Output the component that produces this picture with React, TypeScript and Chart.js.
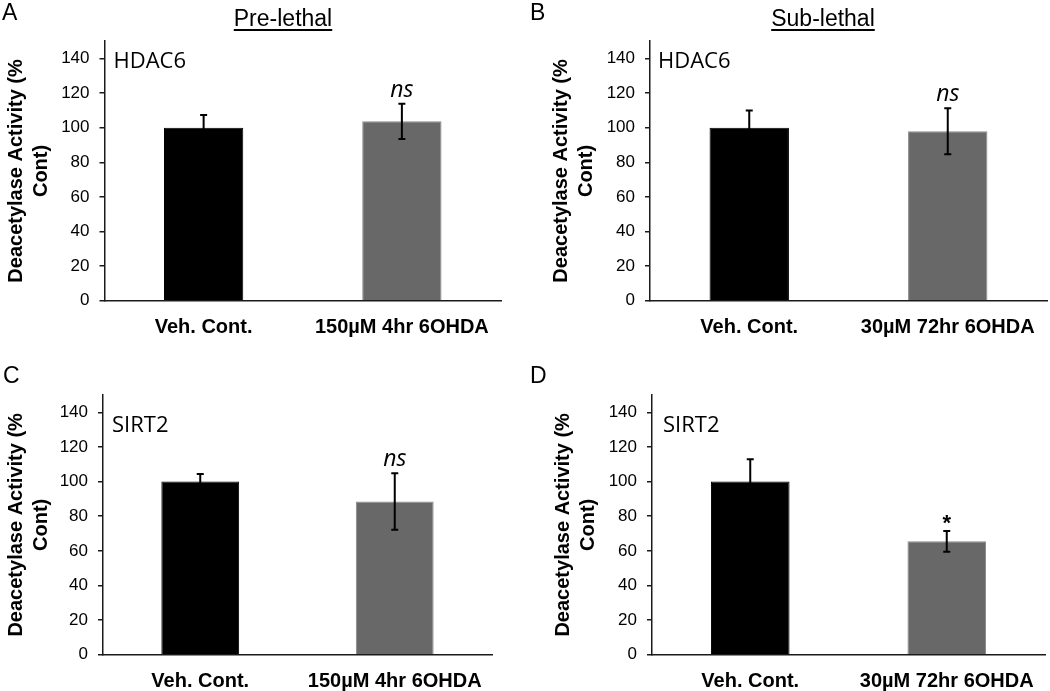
import React, { useEffect, useRef } from 'react';
import { Chart, registerables } from 'chart.js';

Chart.register(...registerables);

// ---------------- data ----------------
const categoriesPreLethal = ['Veh. Cont.', '150µM 4hr 6OHDA'];
const categoriesSubLethal = ['Veh. Cont.', '30µM 72hr 6OHDA'];

const valuesA = [100, 103.7];
const errorsA = [7.3, 10.2];
const signifA = ['', 'ns'];

const valuesB = [100, 98];
const errorsB = [10, 13.3];
const signifB = ['', 'ns'];

const valuesC = [100, 88.5];
const errorsC = [4.4, 16.3];
const signifC = ['', 'ns'];

const valuesD = [100, 65.5];
const errorsD = [12.9, 6];
const signifD = ['', '*'];

const yTickValues = [0, 20, 40, 60, 80, 100, 120, 140];
const yMax = 150;
const enzymeLabels = ['HDAC6', 'HDAC6', 'SIRT2', 'SIRT2'];
const panelLetters = ['A', 'B', 'C', 'D'];
const columnTitles = ['Pre-lethal', 'Sub-lethal'];
const yAxisTitle = ['Deacetylase Activity (%', 'Cont)'];

// ---------------- layout / style ----------------
const ARIAL = "'Liberation Sans', Arial, sans-serif";
const CALIBRI_LIKE = "'Open Sans', 'Liberation Sans', sans-serif";
const barColors = ['#000000', '#686868'];
const barBorders = ['#000000', '#8a8a8a'];

type PanelLayout = {
  left: number; top: number; w: number; h: number;
  yWidth: number; padTop: number; padRight: number; xHeight: number;
  titlePad: number; labelDx: number; labelDy: number;
};

const layouts: PanelLayout[] = [
  { left: 0, top: 0, w: 525, h: 345, yWidth: 104.5, padTop: 41.2, padRight: 24, xHeight: 44.3, titlePad: 3.5, labelDx: 9, labelDy: 27.1 },
  { left: 525, top: 0, w: 525, h: 345, yWidth: 125, padTop: 41.2, padRight: 3, xHeight: 44.3, titlePad: 24.2, labelDx: 8, labelDy: 27.1 },
  { left: 0, top: 345, w: 525, h: 346, yWidth: 103, padTop: 50, padRight: 33, xHeight: 36.3, titlePad: 3.5, labelDx: 9, labelDy: 36.7 },
  { left: 525, top: 345, w: 525, h: 346, yWidth: 127, padTop: 50, padRight: 5, xHeight: 36.3, titlePad: 26, labelDx: 11, labelDy: 36.7 },
];

type PanelData = { cats: string[]; values: number[]; errors: number[]; signif: string[] };
const panels: PanelData[] = [
  { cats: categoriesPreLethal, values: valuesA, errors: errorsA, signif: signifA },
  { cats: categoriesSubLethal, values: valuesB, errors: errorsB, signif: signifB },
  { cats: categoriesPreLethal, values: valuesC, errors: errorsC, signif: signifC },
  { cats: categoriesSubLethal, values: valuesD, errors: errorsD, signif: signifD },
];

function Panel({ idx }: { idx: number }) {
  const ref = useRef<HTMLCanvasElement | null>(null);
  const lay = layouts[idx];
  const pd = panels[idx];

  useEffect(() => {
    if (!ref.current) return;
    const overlay = {
      id: 'overlay' + idx,
      afterDatasetsDraw(chart: any) {
        const ctx = chart.ctx as CanvasRenderingContext2D;
        const meta = chart.getDatasetMeta(0);
        const ys = chart.scales.y;
        ctx.save();
        pd.values.forEach((v, i) => {
          const x = meta.data[i].x;
          const top = ys.getPixelForValue(v + pd.errors[i]);
          const bot = ys.getPixelForValue(v - pd.errors[i]);
          ctx.strokeStyle = '#000';
          ctx.lineWidth = 2;
          ctx.beginPath();
          ctx.moveTo(x, top);
          ctx.lineTo(x, bot);
          ctx.moveTo(x - 3.5, top);
          ctx.lineTo(x + 3.5, top);
          ctx.moveTo(x - 3.5, bot);
          ctx.lineTo(x + 3.5, bot);
          ctx.stroke();
          const s = pd.signif[i];
          if (s) {
            ctx.fillStyle = '#000';
            ctx.textAlign = 'center';
            ctx.textBaseline = 'alphabetic';
            if (s === '*') {
              ctx.font = `bold 22px ${ARIAL}`;
              ctx.fillText(s, x, top - 1);
            } else {
              ctx.font = `italic 23px ${CALIBRI_LIKE}`;
              ctx.fillText(s, x, top - 7);
            }
          }
        });
        const area = chart.chartArea;
        ctx.fillStyle = '#000';
        ctx.textAlign = 'left';
        ctx.textBaseline = 'alphabetic';
        ctx.font = `22px ${CALIBRI_LIKE}`;
        ctx.fillText(enzymeLabels[idx], area.left + lay.labelDx, area.top + lay.labelDy);
        ctx.restore();
      },
    };

    const chart = new Chart(ref.current, {
      type: 'bar',
      data: {
        labels: pd.cats,
        datasets: [
          {
            data: pd.values,
            backgroundColor: barColors,
            borderColor: barBorders,
            borderWidth: 1,
            barPercentage: 0.4,
            categoryPercentage: 1,
          },
        ],
      },
      options: {
        responsive: false,
        animation: false,
        events: [],
        layout: { padding: { top: lay.padTop, right: lay.padRight, left: 0, bottom: 0 } },
        plugins: { legend: { display: false }, tooltip: { enabled: false }, title: { display: false } },
        scales: {
          x: {
            offset: true,
            grid: { display: false, drawTicks: false },
            border: { display: true, color: '#1a1a1a', width: 1.5 },
            ticks: {
              color: '#000',
              padding: 14.5,
              maxRotation: 0,
              autoSkip: false,
              font: { family: ARIAL, size: 20, weight: 'bold' },
            },
            afterFit: (s: any) => { s.height = lay.xHeight; },
          },
          y: {
            min: 0,
            max: yMax,
            grid: { display: true, drawOnChartArea: false, drawTicks: true, tickLength: 5, color: '#1a1a1a', lineWidth: 1.5 },
            border: { display: true, color: '#1a1a1a', width: 1.5 },
            ticks: {
              color: '#000',
              padding: 10,
              stepSize: 20,
              font: { family: ARIAL, size: 17 },
            },
            afterBuildTicks: (s: any) => {
              s.ticks = yTickValues.map((v) => ({ value: v }));
            },
            title: {
              display: true,
              text: yAxisTitle,
              color: '#000',
              padding: { top: lay.titlePad, bottom: 0 },
              font: { family: ARIAL, size: 20, weight: 'bold', lineHeight: 1.25 },
            },
            afterFit: (s: any) => { s.width = lay.yWidth; },
          },
        },
      },
      plugins: [overlay],
    } as any);
    return () => chart.destroy();
  }, [idx]);

  return (
    <canvas
      ref={ref}
      width={lay.w}
      height={lay.h}
      style={{ position: 'absolute', left: lay.left, top: lay.top, width: lay.w, height: lay.h }}
    />
  );
}

export default function App() {
  const letterPos = [
    { left: 2, top: 0.5 },
    { left: 530, top: 0.5 },
    { left: 3, top: 363.5 },
    { left: 530, top: 363.5 },
  ];
  const titleCenters = [283, 823];
  return (
    <div style={{ position: 'absolute', left: 0, top: 0, width: 1050, height: 691, background: '#fff', overflow: 'hidden' }}>
      {[0, 1, 2, 3].map((i) => (
        <Panel key={i} idx={i} />
      ))}
      {panelLetters.map((l, i) => (
        <div
          key={l}
          style={{ position: 'absolute', left: letterPos[i].left, top: letterPos[i].top, fontFamily: ARIAL, fontSize: 23, lineHeight: '23px', color: '#000' }}
        >
          {l}
        </div>
      ))}
      {columnTitles.map((t, i) => (
        <div
          key={t}
          style={{
            position: 'absolute', left: titleCenters[i] - 100, width: 200, top: 6.5, textAlign: 'center',
            fontFamily: ARIAL, fontSize: 23, lineHeight: '23px', color: '#000',
          }}
        >
          <span style={{ textDecoration: 'underline', textUnderlineOffset: 3 }}>{t}</span>
        </div>
      ))}
    </div>
  );
}
